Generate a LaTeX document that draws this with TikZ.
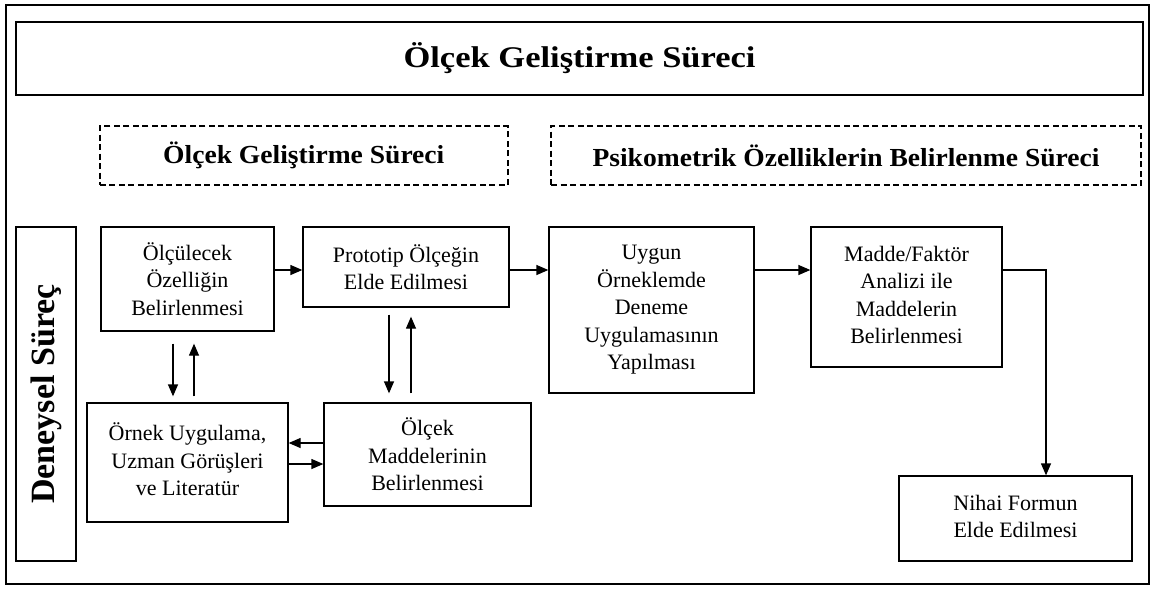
\documentclass[tikz,border=0pt]{standalone}
\usepackage{fontspec}
\usepackage{graphicx}
\setmainfont{Liberation Serif}
\usetikzlibrary{arrows.meta,calc}
% lines of box text, centred and lifted a little inside their box
\newcommand{\liftlines}[2]{\raisebox{#1}{\begin{tabular}{@{}c@{}}#2\end{tabular}}}
\begin{document}
\begin{tikzpicture}[x=1pt,y=-1pt,
  box/.style={draw, line width=1.3pt, align=center, inner sep=0pt,
    font=\fontsize{22}{27.5}\selectfont},
  thickbox/.style={draw, line width=2.6pt, inner sep=0pt},
  dashbox/.style={draw, line width=2pt, dash pattern=on 6pt off 3.5pt, inner sep=0pt},
  flow/.style={line width=1.3pt, -{Triangle[length=12pt,width=10pt]}},
]
\useasboundingbox (0,0) rectangle (1155,590);

% outer frame
\draw[line width=2pt] (6,5) rectangle (1149,584);

% main title
\node[thickbox, minimum width=1127pt, minimum height=73pt] (title) at (579.5,58.5)
  {\scalebox{1.15}[1]{\fontsize{30}{36}\selectfont\bfseries Ölçek Geliştirme Süreci}};

% phase headings
\node[dashbox, minimum width=408pt, minimum height=59pt] (phase1) at (303.75,155.5)
  {\scalebox{1.06}[1]{\fontsize{26}{30}\selectfont\bfseries Ölçek Geliştirme Süreci}};
\node[dashbox, minimum width=590pt, minimum height=59pt] (phase2) at (846,155.5)
  {\scalebox{1.06}[1]{\fontsize{26}{30}\selectfont\bfseries Psikometrik Özelliklerin Belirlenme Süreci}};

% side label
\node[thickbox, rotate=90, minimum width=334pt, minimum height=60pt] (side) at (46,394)
  {\fontsize{34}{40}\selectfont\bfseries Deneysel Süreç};

% process boxes
\node[box, minimum width=173pt, minimum height=104pt] (A) at (187.5,279)
  {Ölçülecek\\Özelliğin\\Belirlenmesi};
\node[box, minimum width=206pt, minimum height=80pt] (B) at (406,267)
  {Prototip Ölçeğin\\Elde Edilmesi};
\node[box, minimum width=207pt, minimum height=103pt] (C) at (427.5,454.5)
  {Ölçek\\Maddelerinin\\Belirlenmesi};
\node[box, minimum width=201pt, minimum height=119pt] (D) at (187.5,462.5)
  {\liftlines{7pt}{Örnek Uygulama,\\Uzman Görüşleri\\ve Literatür}};
\node[box, minimum width=205pt, minimum height=166pt] (E) at (651.5,310)
  {Uygun\\Örneklemde\\Deneme\\Uygulamasının\\Yapılması};
\node[box, minimum width=191pt, minimum height=140pt] (F) at (906.5,297)
  {\liftlines{3pt}{Madde/Faktör\\Analizi ile\\Maddelerin\\Belirlenmesi}};
\node[box, minimum width=233pt, minimum height=85pt] (G) at (1015.5,518.5)
  {\liftlines{4.5pt}{Nihai Formun\\Elde Edilmesi}};

% connectors
\draw[flow] ([yshift=9pt]A.east) -- ([yshift=-3pt]B.west);
\draw[flow] ([yshift=-3pt]B.east) -- ([yshift=-3pt]B.east -| E.west);
\draw[flow] ([yshift=40pt]E.east) -- ([yshift=27pt]F.west);
\draw[flow] ([yshift=27pt]F.east) -| ([xshift=30.5pt]G.north);

\draw[flow] ([xshift=-14.5pt,yshift=-12pt]A.south) -- ([xshift=-14.5pt,yshift=6pt]D.north);
\draw[flow] ([xshift=6.5pt,yshift=6pt]D.north) -- ([xshift=6.5pt,yshift=-12pt]A.south);

\draw[flow] ([xshift=-17pt,yshift=-7pt]B.south) -- ([xshift=-38.5pt,yshift=9pt]C.north);
\draw[flow] ([xshift=-16.5pt,yshift=9pt]C.north) -- ([xshift=5pt,yshift=-9pt]B.south);

\draw[flow] ([yshift=11.5pt]C.west) -- ([yshift=19.5pt]D.east);
\draw[flow] ([yshift=-1.5pt]D.east) -- ([yshift=-9.5pt]C.west);
\end{tikzpicture}
\end{document}
